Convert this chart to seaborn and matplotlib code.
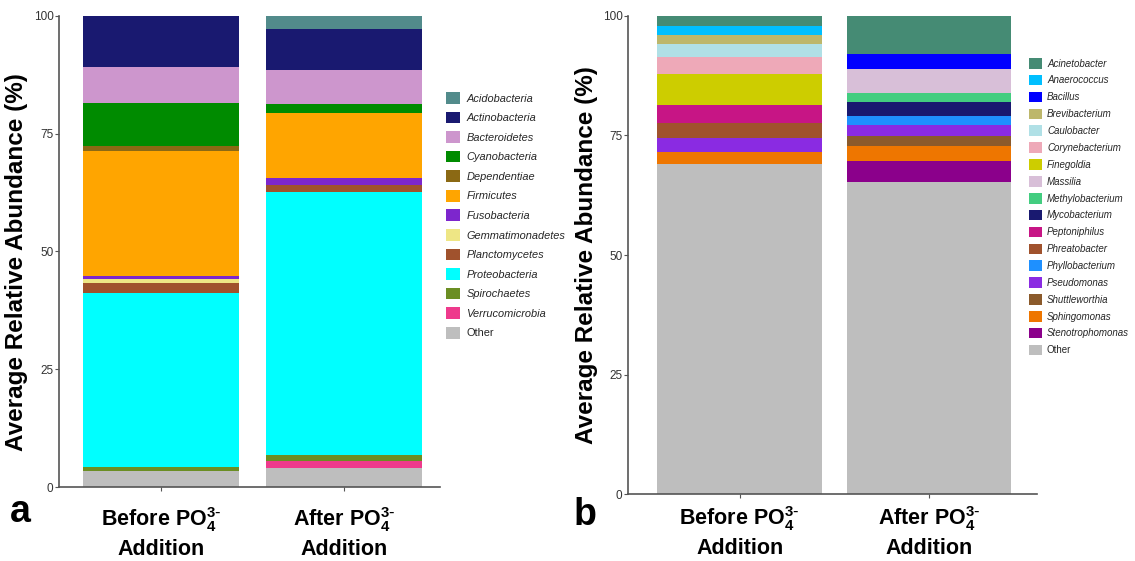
import numpy as np
import seaborn as sns
import matplotlib.pyplot as plt
from matplotlib.patches import Patch
from matplotlib import font_manager

sns.set_theme(style="white")

# the reference uses a narrow sans; take one if it is installed
names = {f.name for f in font_manager.fontManager.ttflist}
if "Liberation Sans Narrow" in names:
    narrow = ["Liberation Sans Narrow", "Liberation Sans", "DejaVu Sans"]
    xsize, leg_a, leg_b = 17.5, 8.6, 7.8
else:
    narrow = ["Liberation Sans", "DejaVu Sans"]
    xsize, leg_a, leg_b = 15.5, 7.9, 7.0
plt.rcParams["font.family"] = narrow
plt.rcParams["mathtext.default"] = "regular"
wide = ["Liberation Sans", "DejaVu Sans"]

groups = [r"Before PO$_4^{3\text{-}}$" + "\nAddition", r"After PO$_4^{3\text{-}}$" + "\nAddition"]

# panel a - phyla (legend order, top of stack first)
phyla = ["Acidobacteria", "Actinobacteria", "Bacteroidetes", "Cyanobacteria", "Dependentiae",
         "Firmicutes", "Fusobacteria", "Gemmatimonadetes", "Planctomycetes", "Proteobacteria",
         "Spirochaetes", "Verrucomicrobia", "Other"]
phyla_before = [0.0, 10.8, 7.6, 9.2, 1.1, 26.6, 0.6, 0.85, 2.0, 37.1, 0.7, 0.0, 3.45]
phyla_after = [2.8, 8.7, 7.1, 2.05, 0.0, 13.8, 1.35, 0.0, 1.6, 55.7, 1.35, 1.5, 4.05]
phyla_colors = ["#528B8B", "#191970", "#CD96CD", "#008B00", "#8B6914", "#FFA500", "#7D26CD",
                "#EEE685", "#A0522D", "#00FFFF", "#6B8E23", "#EE3A8C", "#BEBEBE"]

# panel b - genera
genera = ["Acinetobacter", "Anaerococcus", "Bacillus", "Brevibacterium", "Caulobacter",
          "Corynebacterium", "Finegoldia", "Massilia", "Methylobacterium", "Mycobacterium",
          "Peptoniphilus", "Phreatobacter", "Phyllobacterium", "Pseudomonas", "Shuttleworthia",
          "Sphingomonas", "Stenotrophomonas", "Other"]
genera_before = [2.1, 1.95, 0.0, 1.95, 2.7, 3.5, 6.5, 0.0, 0.0, 0.0, 3.8, 3.1, 0.0, 2.9, 0.0,
                 2.65, 0.0, 68.95]
genera_after = [8.0, 0.0, 3.1, 0.0, 0.0, 0.0, 0.0, 5.1, 1.8, 2.9, 0.0, 0.0, 1.9, 2.4, 1.9,
                3.3, 4.3, 65.3]
genera_colors = ["#458B74", "#00BFFF", "#0000FF", "#BDB76B", "#B0E0E6", "#EEA9B8", "#CDCD00",
                 "#D8BFD8", "#43CD80", "#191970", "#C71585", "#A0522D", "#1E90FF", "#8A2BE2",
                 "#8B5A2B", "#EE7600", "#8B008B", "#BEBEBE"]

fig = plt.figure(figsize=(11.35, 5.61), dpi=100)
ax_a = fig.add_axes([0.052, 0.1319, 0.3357, 0.8396])
ax_b = fig.add_axes([0.5533, 0.1194, 0.3604, 0.8521])


def stacked(ax, names, before, after, colors, width, xlim, xpad, ylab_x, ylab_y):
    bottom = np.zeros(2)
    # ggplot-style: last legend entry at the bottom of the stack
    for name, b, a, c in reversed(list(zip(names, before, after, colors))):
        vals = np.array([b, a])
        sns.barplot(x=groups, y=vals, bottom=bottom, color=c, saturation=1, width=width,
                    errorbar=None, linewidth=0, ax=ax)
        bottom += vals
    ax.set_xlim(*xlim)
    ax.set_ylim(0, 100)
    ax.set_yticks([0, 25, 50, 75, 100])
    ax.tick_params(axis="y", labelsize=8.5, labelcolor="#333333", length=3, width=0.8,
                   color="#555555", left=True, pad=1)
    ax.tick_params(axis="x", labelsize=xsize, labelcolor="black", length=3, width=0.8,
                   color="#555555", bottom=True, pad=xpad)
    for lab in ax.get_xticklabels():
        lab.set_fontweight("bold")
        lab.set_linespacing(1.3)
    for side in ["top", "right"]:
        ax.spines[side].set_visible(False)
    for side in ["left", "bottom"]:
        ax.spines[side].set_color("#555555")
        ax.spines[side].set_linewidth(1.2)
    ax.set_ylabel("Average Relative Abundance (%)", fontsize=17.5, fontweight="bold",
                  family=wide, color="black")
    ax.yaxis.set_label_coords(ylab_x, ylab_y)
    ax.set_xlabel("")


stacked(ax_a, phyla, phyla_before, phyla_after, phyla_colors, 0.855, (-0.557, 1.525),
        10, -0.081, 0.478)
stacked(ax_b, genera, genera_before, genera_after, genera_colors, 0.87, (-0.59, 1.57),
        4.5, -0.073, 0.5)

h_a = [Patch(facecolor=c, edgecolor="none") for c in phyla_colors]
fig.legend(h_a, phyla, loc="upper left", bbox_to_anchor=(446 / 1135, 1 - 92 / 561),
           frameon=False, prop={"size": leg_a, "style": "italic"}, handlelength=1.26,
           handleheight=1.26, labelspacing=0.72, handletextpad=0.6, borderpad=0,
           borderaxespad=0)
fig.legends[0].get_texts()[-1].set_fontstyle("normal")

h_b = [Patch(facecolor=c, edgecolor="none") for c in genera_colors]
fig.legend(h_b, genera, loc="upper left", bbox_to_anchor=(1029 / 1135, 1 - 58 / 561),
           frameon=False, prop={"size": leg_b, "style": "italic"}, handlelength=1.3,
           handleheight=1.3, labelspacing=0.645, handletextpad=0.55, borderpad=0,
           borderaxespad=0)
fig.legends[1].get_texts()[-1].set_fontstyle("normal")

fig.text(10 / 1135, 1 - 522 / 561, "a", fontsize=27, fontweight="bold", family=wide,
         color="black")
fig.text(574 / 1135, 1 - 525 / 561, "b", fontsize=27, fontweight="bold", family=wide,
         color="black")

fig.savefig("out.png", dpi=100)
